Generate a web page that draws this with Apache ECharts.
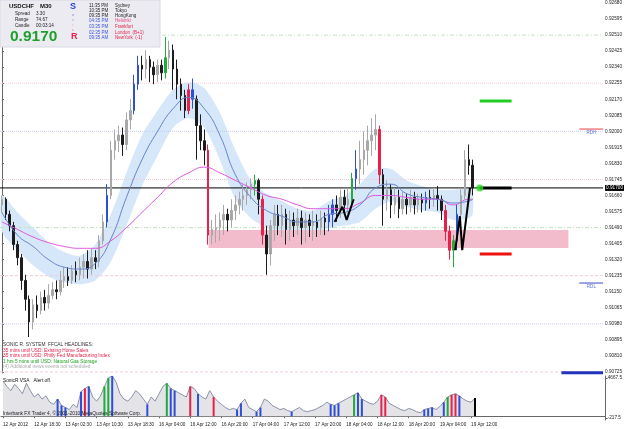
<!DOCTYPE html>
<html><head><meta charset="utf-8">
<script src="https://cdn.jsdelivr.net/npm/echarts@6/dist/echarts.min.js"></script>
<style>html,body{margin:0;padding:0;background:#fff}#c{width:625px;height:429px}</style>
</head><body><div id="c"></div>
<script>
// ---------- DATA ----------
const timeLabels = ['12 Apr 2012','12 Apr 18:30','13 Apr 02:30','13 Apr 10:30','13 Apr 18:30','16 Apr 04:00','16 Apr 12:00','16 Apr 20:00','17 Apr 04:00','17 Apr 12:00','17 Apr 20:00','18 Apr 04:00','18 Apr 12:00','18 Apr 20:00','19 Apr 04:00','19 Apr 12:00'];
const priceTicks = [0.92680,0.92595,0.92510,0.92425,0.92340,0.92255,0.92170,0.92085,0.92000,0.91915,0.91830,0.91745,0.91660,0.91575,0.91490,0.91405,0.91320,0.91235,0.91150,0.91065,0.90980,0.90895,0.90810,0.90725];
const vsaTicks = [4667.5, -217.5];

const opens = [.9161,.9164,.9156,.9150,.9140,.9133,.9121,.9111,.9099,.9108,
.9105,.9112,.9109,.9113,.9116,.9115,.9121,.9123,.9121,.9126,
.9124,.9128,.9131,.9127,.9133,.9131,.9142,.9152,.9166,.9190,
.9195,.9198,.9193,.9206,.9211,.9225,.9235,.9233,.9238,.9234,
.9230,.9235,.9231,.9239,.9243,.9233,.9225,.9219,.9211,.9222,
.9217,.9203,.9195,.9190,.9145,.9148,.9149,.9153,.9156,.9153,
.9158,.9161,.9164,.9166,.9169,.9172,.9174,.9164,.9145,.9135,
.9150,.9156,.9150,.9156,.9148,.9153,.9150,.9154,.9149,.9153,
.9150,.9152,.9149,.9154,.9152,.9156,.9161,.9158,.9165,.9161,
.9164,.9175,.9180,.9185,.9190,.9195,.9198,.9201,.9177,.9164,
.9169,.9161,.9165,.9159,.9164,.9161,.9165,.9161,.9164,.9162,
.9165,.9164,.9166,.9164,.9158,.9147,.9137,.9142,.9156,.9166,
.9185,.9182];
const closes = [.9164,.9156,.9150,.9140,.9133,.9121,.9111,.9099,.9108,.9105,
.9112,.9109,.9113,.9116,.9115,.9121,.9123,.9121,.9126,.9124,
.9128,.9131,.9127,.9133,.9131,.9142,.9152,.9166,.9190,.9195,
.9198,.9193,.9206,.9211,.9225,.9235,.9233,.9238,.9234,.9230,
.9235,.9231,.9239,.9243,.9233,.9225,.9219,.9211,.9222,.9217,
.9203,.9195,.9190,.9145,.9148,.9149,.9153,.9156,.9153,.9158,
.9161,.9164,.9166,.9169,.9172,.9174,.9164,.9145,.9135,.9150,
.9156,.9150,.9156,.9148,.9153,.9150,.9154,.9149,.9153,.9150,
.9152,.9149,.9154,.9152,.9156,.9161,.9158,.9165,.9161,.9164,
.9175,.9180,.9185,.9190,.9195,.9198,.9201,.9177,.9164,.9169,
.9161,.9165,.9159,.9164,.9161,.9165,.9161,.9164,.9162,.9165,
.9164,.9166,.9164,.9158,.9147,.9137,.9142,.9156,.9166,.9185,
.9182,.9170];
const highs = [.9166,.9165,.9158,.9152,.9142,.9135,.9124,.9113,.9111,.9113,
.9115,.9116,.9119,.9120,.9121,.9126,.9128,.9128,.9129,.9131,
.9133,.9135,.9137,.9138,.9137,.9145,.9156,.9172,.9195,.9201,
.9203,.9202,.9210,.9217,.9230,.9240,.9240,.9243,.9240,.9237,
.9238,.9238,.9250,.9248,.9246,.9238,.9228,.9222,.9225,.9228,
.9219,.9209,.9201,.9193,.9153,.9156,.9157,.9161,.9159,.9164,
.9166,.9168,.9172,.9173,.9175,.9177,.9175,.9166,.9150,.9153,
.9161,.9161,.9161,.9159,.9158,.9157,.9159,.9158,.9157,.9156,
.9158,.9156,.9158,.9157,.9161,.9164,.9166,.9169,.9169,.9170,
.9178,.9190,.9195,.9200,.9203,.9207,.9209,.9203,.9180,.9174,
.9172,.9170,.9169,.9168,.9167,.9169,.9168,.9167,.9167,.9168,
.9169,.9170,.9171,.9166,.9161,.9150,.9145,.9161,.9170,.9190,
.9193,.9185];
const lows = [.9157,.9153,.9147,.9137,.9129,.9116,.9105,.9091,.9095,.9101,
.9103,.9105,.9106,.9111,.9111,.9113,.9117,.9118,.9119,.9120,
.9121,.9122,.9122,.9124,.9127,.9128,.9140,.9149,.9164,.9185,
.9189,.9187,.9190,.9201,.9209,.9222,.9227,.9228,.9226,.9225,
.9226,.9227,.9228,.9233,.9222,.9217,.9211,.9207,.9209,.9212,
.9185,.9190,.9182,.9140,.9140,.9141,.9142,.9145,.9147,.9149,
.9153,.9156,.9158,.9161,.9164,.9166,.9156,.9140,.9124,.9129,
.9142,.9145,.9144,.9140,.9142,.9144,.9145,.9140,.9141,.9144,
.9142,.9144,.9145,.9145,.9147,.9149,.9152,.9154,.9156,.9156,
.9161,.9169,.9172,.9177,.9182,.9187,.9190,.9172,.9150,.9158,
.9154,.9156,.9154,.9156,.9156,.9157,.9156,.9157,.9157,.9158,
.9159,.9160,.9158,.9153,.9142,.9132,.9128,.9137,.9150,.9164,
.9177,.9166];
const blueBars = [27,34,35,49,84,85,91,109,117];
const greenBars = [42,65,90,116];
const redBars = [48,53,67,97,114,115];

const maSlots = [0,4,8,12,16,20,24,28,32,36,40,44,48,52,56,60,64,68,72,76,80,84,88,92,96,100,104,108,112,116,120,121];
const maBlue = [.9157,.9145,.9139,.9132,.9128,.9127,.9130,.9143,.9165,.9185,.9200,.9212,.9218,.9212,.9198,.9177,.9165,.9158,.9155,.9152,.9152,.9156,.9157,.9161,.9170,.9172,.9167,.9165,.9164,.9162,.9163,.9164];
const bandUpper = [.9166,.9157,.9149,.9141,.9136,.9134,.9140,.9156,.9178,.9198,.9211,.9222,.9226,.9223,.9210,.9190,.9174,.9167,.9163,.9159,.9158,.9163,.9166,.9172,.9180,.9180,.9174,.9171,.9169,.9169,.9170,.9171];
const bandLower = [.9147,.9137,.9129,.9123,.9120,.9119,.9121,.9131,.9150,.9171,.9187,.9202,.9207,.9202,.9185,.9164,.9154,.9149,.9146,.9144,.9145,.9149,.9150,.9152,.9159,.9163,.9160,.9158,.9157,.9153,.9154,.9156];
const maMagenta = [.9152,.9148,.9144,.9141,.9139,.9138,.9138,.9142,.9149,.9157,.9165,.9173,.9178,.9181,.9178,.9174,.9170,.9166,.9164,.9161,.9159,.9159,.9159,.9162,.9166,.9166,.9165,.9164,.9164,.9161,.9164,.9164];

const zone = [53.1, 0.91477, 145.6, 0.91382];
const zigzag1 = [[85.5,0.9152],[87.5,0.9160],[88.6,0.9153],[90.4,0.9164]];
const zigzag2 = [[116.5,0.9137],[117.7,0.9155],[118.3,0.9137],[120.3,0.9170]];
const levelGreen = 0.92161, levelRed = 0.91350, levelBlack = 0.91700;
const levelX = [122.8, 131.0];
const currentPrice = 0.91700;
const rdh = 0.92012, rdl = 0.91196;
const gridLevels = [0.92510,0.92255,0.92000,0.91745,0.91490,0.91235,0.90980,0.90725];
const bottomLine = 0.90720;

const vol = [4281,3638,3124,3895,3381,2738,4024,3124,2352,2738,
2095,2481,1710,1453,2095,1324,1067,810,1453,1067,
2995,3381,3638,2352,1838,2481,3638,4666,4923,4152,
2738,2095,1838,2352,3124,2738,2095,1453,2352,1838,
2738,3638,4024,3381,3124,2867,2610,2352,3638,3381,
2738,2352,2095,3124,2352,1838,1453,1067,810,938,
810,1581,2095,1067,810,553,1067,2095,1838,1324,
1067,810,938,681,553,810,1067,681,553,681,
810,1067,1324,1710,1453,1324,1581,1838,2095,2352,
2610,2867,2095,1838,1581,1453,1838,2610,2352,1581,
1324,1067,810,681,938,810,553,424,810,938,
1067,810,1196,1710,2352,2610,2738,2481,2095,1838,
1710,2224];
const vsaBlue = [14,15,16,20,22,28,37,43,44,50,60,61,65,66,74,84,85,86,91,92,108,109,110,113,117];
const vsaGreen = [26,27,42,90,114];
const vsaRed = [21,48,54,97,98,115,116];
const vsaBlack = [121];

// ---------- BUILD ----------
const N = 155;
const XR = [-0.5, N - 0.5];
const cats = Array.from({length: N}, (_, i) => String(i));
const hl = {};
blueBars.forEach(i => hl[i] = '#2d4fd6');
greenBars.forEach(i => hl[i] = '#22aa3a');
redBars.forEach(i => hl[i] = '#e8204a');
const candleData = opens.map((o, i) => {
  const d = {value: [o, closes[i], lows[i], highs[i]]};
  if (hl[i]) d.itemStyle = {color: hl[i], color0: hl[i], borderColor: hl[i], borderColor0: hl[i]};
  return d;
});
const pairs = (xs, ys) => xs.map((x, i) => [x, ys[i]]);

const vc = {};
vsaBlue.forEach(i => vc[i] = '#2d4fd6');
vsaGreen.forEach(i => vc[i] = '#22aa3a');
vsaRed.forEach(i => vc[i] = '#e8204a');
vsaBlack.forEach(i => vc[i] = '#000');
const vsaBars = vol.map((v, i) => vc[i] ? {value: v, itemStyle: {color: vc[i]}} : '-');

const gridColors = ['#bfe2bf','#f5cbd8','#c8ccf2','#f5cbd8','#bfe2bf','#f5cbd8','#c8ccf2','#f5cbd8'];
const gridTypes = [[4,2,1,2],'dotted','dotted','dotted',[4,2,1,2],[3,2],'dotted',[3,2]];

const F = 'Liberation Sans, Arial, sans-serif';
const chart = echarts.init(document.getElementById('c'));
const yMax = 0.926959, yMin = 0.907193;

const hline = (v, color, type, width, z, extra) => Object.assign({type: 'line', xAxisIndex: 1, yAxisIndex: 0, data: [[XR[0], v], [XR[1], v]], symbol: 'none', silent: true,
  lineStyle: {color: color, type: type, width: width}, z: z}, extra || {});

const bandData = maSlots.map((s, i) => [s, bandUpper[i], bandLower[i]]);
const series = [
  {type: 'custom', xAxisIndex: 1, yAxisIndex: 0, data: bandData, z: 1, silent: true,
    encode: {x: 0, y: [1, 2]},
    renderItem: (params, api) => {
      if (params.dataIndex !== 0) return null;
      const up = bandData.map(d => api.coord([d[0], d[1]]));
      const lo = bandData.map(d => api.coord([d[0], d[2]])).reverse();
      return {type: 'polygon', shape: {points: up.concat(lo), smooth: 0.25}, style: {fill: '#d5e7f8'}};
    }},
  {type: 'custom', xAxisIndex: 1, yAxisIndex: 0, data: [zone], z: 3, silent: true,
    renderItem: (params, api) => {
      const p0 = api.coord([api.value(0), api.value(1)]);
      const p1 = api.coord([api.value(2), api.value(3)]);
      return {type: 'rect', shape: {x: p0[0], y: p0[1], width: p1[0] - p0[0], height: p1[1] - p0[1]}, style: {fill: '#f3bccd'}};
    }}
];
gridLevels.forEach((v, i) => series.push(hline(v, gridColors[i], gridTypes[i], 1, 2)));
series.push(hline(currentPrice, '#000', 'solid', 1, 4, {
  endLabel: {show: true, formatter: currentPrice.toFixed(5), color: '#fff', backgroundColor: '#000', fontSize: 4.7, padding: [1, 1, 0, 1], distance: 2, fontFamily: F}
}));
series.push(
  {type: 'candlestick', xAxisIndex: 0, yAxisIndex: 0, data: candleData, barWidth: 2, z: 5,
    itemStyle: {color: '#a8a8a8', color0: '#1c1c1c', borderColor: '#a8a8a8', borderColor0: '#1c1c1c', borderWidth: 1}},
  {type: 'line', xAxisIndex: 1, yAxisIndex: 0, data: pairs(maSlots, maMagenta), smooth: true, symbol: 'none', lineStyle: {color: '#e055e0', width: 1}, z: 6},
  {type: 'line', xAxisIndex: 1, yAxisIndex: 0, data: pairs(maSlots, maBlue), smooth: true, symbol: 'none', lineStyle: {color: '#6a84cc', width: 1}, z: 6},
  {type: 'line', xAxisIndex: 1, yAxisIndex: 0, data: zigzag1, symbol: 'none', lineStyle: {color: '#000', width: 2}, z: 7},
  {type: 'line', xAxisIndex: 1, yAxisIndex: 0, data: zigzag2, symbol: 'none', lineStyle: {color: '#000', width: 2}, z: 7},
  {type: 'line', xAxisIndex: 1, yAxisIndex: 0, data: [[levelX[0], levelGreen], [levelX[1], levelGreen]], symbol: 'none', lineStyle: {color: '#22cc22', width: 3}, z: 7},
  {type: 'line', xAxisIndex: 1, yAxisIndex: 0, data: [[levelX[0], levelRed], [levelX[1], levelRed]], symbol: 'none', lineStyle: {color: '#ee1111', width: 3}, z: 7},
  {type: 'line', xAxisIndex: 1, yAxisIndex: 0, data: [[levelX[0], levelBlack], [levelX[1], levelBlack]], symbol: 'none', lineStyle: {color: '#000', width: 3}, z: 7},
  {type: 'scatter', xAxisIndex: 1, yAxisIndex: 0, data: [[levelX[0], levelBlack]], symbolSize: 7, itemStyle: {color: '#22dd22'}, z: 8},
  {type: 'line', xAxisIndex: 1, yAxisIndex: 0, data: [[148.4, rdh], [XR[1], rdh]], symbol: 'none', lineStyle: {color: '#e04040', width: 1}, z: 7},
  {type: 'line', xAxisIndex: 1, yAxisIndex: 0, data: [[148.4, rdl], [XR[1], rdl]], symbol: 'none', lineStyle: {color: '#3a48cc', width: 1}, z: 7},
  {type: 'scatter', xAxisIndex: 1, yAxisIndex: 0, symbolSize: 0, z: 8,
    data: [{value: [151.5, rdh], label: {formatter: 'RDH'}}, {value: [151.5, rdl], label: {formatter: 'RDL'}}],
    label: {show: true, position: 'bottom', distance: 1, color: '#4050cc', fontSize: 4.6, fontFamily: F}},
  {type: 'line', xAxisIndex: 1, yAxisIndex: 0, data: [[143.8, bottomLine], [XR[1], bottomLine]], symbol: 'none', clip: false, lineStyle: {color: '#2233bb', width: 3}, z: 7},
  {type: 'line', xAxisIndex: 2, yAxisIndex: 1, data: vol, symbol: 'none', lineStyle: {color: '#8a90a8', width: 1}, areaStyle: {color: '#e3e3e8', opacity: 1}, z: 2},
  {type: 'bar', xAxisIndex: 2, yAxisIndex: 1, data: vsaBars, barWidth: 2, z: 3}
);

const txt = (x, y, text, font, fill) => ({type: 'text', x: x, y: y, style: {text: text, font: font, fill: fill, textVerticalAlign: 'middle'}, z: 101});
const small = '4.6px ' + F;

const option = {
  animation: false,
  backgroundColor: '#ffffff',
  textStyle: {fontFamily: F},
  grid: [
    {left: 0, top: 0, width: 607, height: 373},
    {left: 0, top: 376, width: 607, height: 44}
  ],
  xAxis: [
    {type: 'category', gridIndex: 0, data: cats, boundaryGap: true, axisLine: {show: false}, axisTick: {show: false}, axisLabel: {show: false}, splitLine: {show: false}},
    {type: 'value', gridIndex: 0, min: XR[0], max: XR[1], show: false},
    {type: 'category', gridIndex: 1, data: cats, boundaryGap: true,
      axisLine: {show: true, lineStyle: {color: '#666'}},
      axisTick: {show: true, alignWithLabel: true, length: 2, interval: (i) => i % 8 === 0 && i / 8 < timeLabels.length, lineStyle: {color: '#666'}},
      axisLabel: {interval: 0, align: 'left', margin: 2, fontSize: 4.6, color: '#222', fontFamily: F,
        formatter: (v, i) => (i % 8 === 0 && i / 8 < timeLabels.length) ? timeLabels[i / 8] : ''},
      splitLine: {show: false}}
  ],
  yAxis: [
    {type: 'value', gridIndex: 0, position: 'right', min: yMin, max: yMax,
      axisLine: {show: true, lineStyle: {color: '#666'}},
      axisTick: {show: true, customValues: priceTicks, length: 2, lineStyle: {color: '#666'}},
      axisLabel: {customValues: priceTicks, formatter: v => v.toFixed(5), fontSize: 4.7, margin: 2, color: '#222', fontFamily: F},
      splitLine: {show: false}},
    {type: 'value', gridIndex: 1, position: 'right', min: -461.7, max: 4911.7,
      axisLine: {show: true, lineStyle: {color: '#666'}},
      axisTick: {show: true, customValues: vsaTicks, length: 2, lineStyle: {color: '#666'}},
      axisLabel: {customValues: vsaTicks, formatter: v => v.toFixed(1), fontSize: 4.7, margin: 2, color: '#222', fontFamily: F},
      splitLine: {show: false}}
  ],
  series: series,
  graphic: [
    {type: 'rect', shape: {x: 0, y: 0, width: 160, height: 47}, style: {fill: '#ebebf1', stroke: '#d8d8e4'}, z: 100},
    txt(9, 6, 'USDCHF', 'bold 6px ' + F, '#111'),
    txt(40, 6, 'M30', 'bold 6px ' + F, '#111'),
    txt(15, 13.5, 'Spread', small, '#222'), txt(36, 13.5, '3.30', small, '#222'),
    txt(15, 19.5, 'Range', small, '#222'), txt(36, 19.5, '74.67', small, '#222'),
    txt(15, 25.5, 'Candle', small, '#222'), txt(36, 25.5, '00:03:14', small, '#222'),
    txt(10, 36.5, '0.9170', 'bold 15.5px ' + F, '#1f9f2c'),
    txt(70, 6.5, 'S', 'bold 9px ' + F, '#2b45d0'),
    txt(72, 15, 'o', '4px ' + F, '#8a8ad8'),
    txt(72, 20, 'n', '4px ' + F, '#c59ad8'),
    txt(72.5, 25, 'i', '4px ' + F, '#e090b8'),
    txt(72, 29.5, 'c', '4px ' + F, '#e47aa0'),
    txt(71, 37, 'R', 'bold 9px ' + F, '#e0204c'),
    ...[
      ['11:35 PM', 'Sydney', 5.5, '#222', '#222'],
      ['10:35 PM', 'Tokyo', 11, '#222', '#222'],
      ['09:35 PM', 'HongKong', 16, '#222', '#222'],
      ['04:35 PM', 'Helsinki', 21, '#3a55e0', '#e84a80'],
      ['03:35 PM', 'Frankfurt', 26.5, '#3a55e0', '#e8204a'],
      ['02:35 PM', 'London  (B+1)', 32.5, '#3a55e0', '#e8204a'],
      ['09:35 AM', 'NewYork  (-1)', 38, '#3a55e0', '#e8204a']
    ].flatMap(r => [txt(89, r[2], r[0], '4.5px ' + F, r[3]), txt(115, r[2], r[1], '4.5px ' + F, r[4])]),
    txt(3, 345, 'SONIC R. SYSTEM  FFCAL HEADLINES:', '4.8px ' + F, '#333'),
    txt(3, 350.5, '35 mins until USD: Existing Home Sales', '4.8px ' + F, '#e8204a'),
    txt(3, 356, '35 mins until USD: Philly Fed Manufacturing Index', '4.8px ' + F, '#e8204a'),
    txt(3, 361.5, '1 hrs 5 mins until USD: Natural Gas Storage', '4.8px ' + F, '#20a020'),
    txt(3, 367, '(4) Additional news events not scheduled', '4.8px ' + F, '#aaaaaa'),
    txt(3, 380.5, 'SonicR VSA   Alert off.', '4.8px ' + F, '#111'),
    txt(3, 413.5, 'Interbank FX Trader 4, \u00a9 2001-2010 MetaQuotes Software Corp.', '4.8px ' + F, '#222')
  ]
};
chart.setOption(option);
</script>
</body></html>
